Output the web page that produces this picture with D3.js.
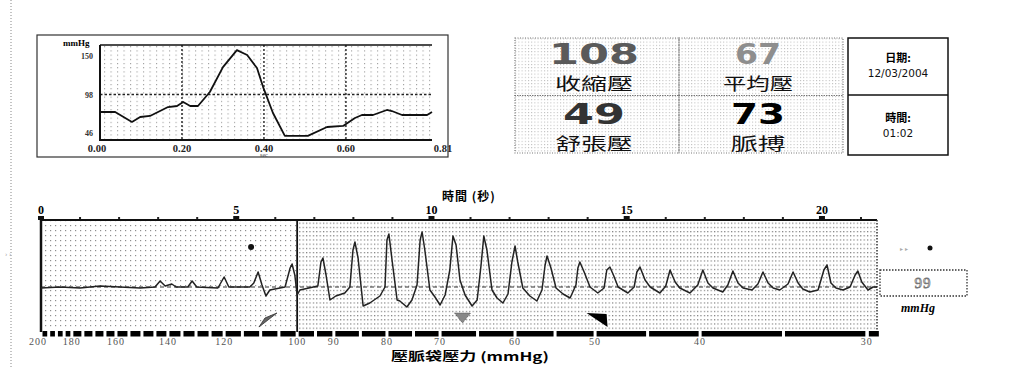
<!DOCTYPE html>
<html>
<head>
<meta charset="utf-8">
<script src="https://cdn.jsdelivr.net/npm/d3@7"></script>
<style>
  body { margin: 0; background: #fff; }
  svg { display: block; }
  .serif { font-family: "Liberation Serif", "DejaVu Serif", serif; }
  .cjk { font-family: "Noto Sans CJK TC", "Noto Sans CJK SC", sans-serif; }
</style>
</head>
<body>
<script>
// single beat (inset), seconds / mmHg
const insetTrace = [
  [0, 74.4], [0.037, 74.4], [0.078, 60.9], [0.098, 67.6], [0.122, 69], [0.166, 81.1],
  [0.188, 82.5], [0.203, 87.9], [0.22, 82.5], [0.239, 82.5], [0.268, 101.4], [0.30, 135.1],
  [0.334, 158.1], [0.359, 151.4], [0.383, 133.8], [0.398, 108.1], [0.422, 73], [0.451, 42],
  [0.507, 42], [0.554, 54.1], [0.593, 55.5], [0.622, 66.3], [0.639, 70.3], [0.666, 70.3],
  [0.70, 77.1], [0.712, 75.7], [0.737, 70.3], [0.798, 70.3], [0.81, 74.4]
];
const insetXTicks = [0, 0.2, 0.4, 0.6, 0.81];
const insetYTicks = [46, 98, 150];

// readout panel
const readoutValues = ["108", "67", "49", "73"];
const readoutLabels = ["收縮壓", "平均壓", "舒張壓", "脈搏"];
const dateText = ["日期:", "12/03/2004"];
const timeText = ["時間:", "01:02"];

// oscillation trace over the deflation, [seconds, amplitude]
const oscillation = [
  [0, -0.1], [0.49, 0], [1.00, -0.1], [1.51, 0.1], [2.02, 0], [2.54, -0.1], [2.92, 0], [3.05, 0.6],
  [3.18, 0.1], [3.35, 0.3], [3.46, 0], [3.76, 0], [3.87, 0.6], [3.99, 0], [4.53, -0.1], [4.69, 1.0],
  [4.81, 0], [5.35, 0], [5.45, 0.4], [5.56, 1.5], [5.66, 0.2], [5.76, -0.9], [5.86, -0.3], [6.25, 0],
  [6.38, 1.9], [6.43, 2.3], [6.50, 1.2], [6.56, -0.8], [6.63, -0.3], [7.09, 0.1], [7.17, 2.5], [7.22, 2.9],
  [7.30, 1.2], [7.40, -1.3], [7.55, -0.9], [7.78, -0.6], [7.91, 0], [7.99, 3.7], [8.04, 4.5], [8.12, 2.9],
  [8.25, -1.9], [8.42, -1.6], [8.68, -0.9], [8.81, 0], [8.86, 4.7], [8.91, 5.3], [8.99, 2.7], [9.12, -1.3],
  [9.19, -1.4], [9.37, -2.0], [9.50, -1.3], [9.63, 0.2], [9.71, 4.7], [9.76, 5.5], [9.83, 3.7], [9.96, -0.3],
  [10.09, -1.0], [10.22, -1.8], [10.35, -0.8], [10.47, 1.7], [10.55, 5.1], [10.63, 4.2], [10.73, 0.7],
  [10.86, -0.8], [11.04, -1.9], [11.17, -1.3], [11.27, 2.2], [11.34, 5.1], [11.42, 3.7], [11.55, -0.3],
  [11.68, -1.1], [11.83, -1.6], [11.96, -0.7], [12.06, 2.5], [12.14, 4.1], [12.21, 2.5], [12.34, -0.1],
  [12.52, -0.9], [12.70, -1.4], [12.83, -0.3], [12.91, 2.2], [12.96, 3.1], [13.06, 1.9], [13.19, -0.1],
  [13.37, -0.7], [13.55, -1.1], [13.70, 0.2], [13.75, 1.9], [13.80, 2.5], [13.91, 1.5], [14.06, 0],
  [14.26, -0.6], [14.42, -0.1], [14.49, 1.7], [14.57, 2.0], [14.67, 1.1], [14.78, 0], [15.03, -0.6],
  [15.19, 0], [15.26, 1.5], [15.34, 2.0], [15.47, 0.7], [15.60, 0], [15.85, -0.6], [16.00, 0.1],
  [16.11, 1.7], [16.24, 0.5], [16.36, -0.1], [16.62, -0.6], [16.82, 0.2], [16.95, 1.7], [17.08, 0.4],
  [17.21, -0.1], [17.46, -0.5], [17.59, 0.2], [17.72, 1.6], [17.85, 0.4], [17.98, -0.1], [18.21, -0.3],
  [18.36, 0.3], [18.49, 1.5], [18.62, 0.4], [18.75, -0.1], [18.92, -0.3], [19.13, 0.3], [19.26, 1.5],
  [19.39, 0.4], [19.51, -0.2], [19.69, -0.5], [19.90, -0.3], [20.05, 1.7], [20.13, 2.2], [20.23, 0.4],
  [20.36, -0.1], [20.54, -0.3], [20.72, 0], [20.85, 1.2], [20.92, 1.6], [21.02, 0.5], [21.18, -0.3],
  [21.31, 0], [21.41, 0]
];
const timeTicks = [0, 5, 10, 15, 20];
// cuff pressure labels and the second at which each was reached
const cuffTicks = [200, 180, 160, 140, 120, 100, 90, 80, 70, 60, 50, 40, 30];
const cuffTimes = [0, 0.79, 1.92, 3.25, 4.69, 6.56, 7.50, 8.86, 10.22, 12.14, 14.19, 16.88, 21.15];
const markerPressures = [108, 67, 49]; // systolic, mean, diastolic
const cuffReading = "99";
const extraDot = [5.38, 4.0];

const W = 1010, H = 369;
const svg = d3.select("body").append("svg")
    .attr("width", W).attr("height", H);

svg.append("rect").attr("width", W).attr("height", H).attr("fill", "#fff");

const defs = svg.append("defs");
function dotPattern(id, w, h, size, color) {
    const p = defs.append("pattern").attr("id", id)
        .attr("patternUnits", "userSpaceOnUse").attr("width", w).attr("height", h);
    p.append("rect").attr("width", size).attr("height", size).attr("fill", color);
}
dotPattern("dotsInset", 6.5, 4.2, 1.1, "#9a9a9a");
dotPattern("dotsPanel", 3.2, 3.2, 1.0, "#b5b5b5");
dotPattern("dotsLeft", 5, 5, 1.2, "#8f8f8f");
dotPattern("dotsRight", 3.4, 4.2, 1.2, "#7a7a7a");

// page edge
svg.append("line").attr("x1", 11).attr("x2", 11).attr("y1", 0).attr("y2", H)
    .attr("stroke", "#888").attr("stroke-width", 1).attr("stroke-dasharray", "1,2");
svg.append("text").attr("x", 5).attr("y", 256).attr("fill", "#999")
    .attr("font-size", 7).attr("class", "serif").text("› ›");

// ---------- inset: single beat ----------
svg.append("rect").attr("x", 37).attr("y", 35).attr("width", 411).attr("height", 122)
    .attr("fill", "none").attr("stroke", "#333").attr("stroke-width", 1.2);

const ix = d3.scaleLinear().domain([0, 0.81]).range([100, 432]);
const iy = d3.scaleLinear().domain([36.5, 165]).range([140, 45]);

svg.append("rect").attr("x", 100).attr("y", 45).attr("width", 332).attr("height", 95)
    .attr("fill", "url(#dotsInset)");

svg.selectAll(".ivline").data(insetXTicks.slice(1, 4)).enter().append("line")
    .attr("x1", d => ix(d)).attr("x2", d => ix(d)).attr("y1", 45).attr("y2", 140)
    .attr("stroke", "#222").attr("stroke-width", 1.4).attr("stroke-dasharray", "2,2");
svg.append("line").attr("x1", 100).attr("x2", 432).attr("y1", iy(98)).attr("y2", iy(98))
    .attr("stroke", "#222").attr("stroke-width", 1.4).attr("stroke-dasharray", "2.5,2");

svg.append("path").attr("d", `M100,45H432`).attr("stroke", "#111").attr("stroke-width", 1.5);
svg.append("path").attr("d", `M100,45V140H432`).attr("fill", "none")
    .attr("stroke", "#111").attr("stroke-width", 2);

svg.append("path").datum(insetTrace)
    .attr("d", d3.line().x(d => ix(d[0])).y(d => iy(d[1])))
    .attr("fill", "none").attr("stroke", "#111").attr("stroke-width", 1.8)
    .attr("stroke-linejoin", "round");

svg.selectAll(".iylab").data(insetYTicks).enter().append("text")
    .attr("class", "serif").attr("x", 93).attr("y", d => iy(d) + 3)
    .attr("text-anchor", "end").attr("font-size", 8).attr("font-weight", "bold")
    .attr("fill", "#333").text(d => d);
svg.append("text").attr("class", "serif").attr("x", 63).attr("y", 46)
    .attr("font-size", 9).attr("font-weight", "bold").text("mmHg");

svg.selectAll(".ixlab").data(insetXTicks).enter().append("text")
    .attr("class", "serif").attr("x", (d, i) => i === 0 ? ix(d) - 3 : ix(d) + (i === 4 ? 11 : 0))
    .attr("y", 152).attr("text-anchor", "middle").attr("font-size", 10.5)
    .attr("font-weight", "bold").attr("fill", "#222").text(d => d.toFixed(2));
svg.append("text").attr("class", "serif").attr("x", ix(0.4)).attr("y", 157)
    .attr("text-anchor", "middle").attr("font-size", 6).attr("fill", "#444").text("sec");

// ---------- readout panel ----------
const col = d3.scaleBand().domain([0, 1]).range([515, 843]);
const row = d3.scaleBand().domain([0, 1]).range([38, 153]);
const numColor = ["#5a5a5a", "#8e8e8e", "#333", "#000"];
const numWidth = [90, 46, 62, 54];
const labWidth = [78, 70, 77, 55];

svg.append("rect").attr("x", 515).attr("y", 38).attr("width", 328).attr("height", 115)
    .attr("fill", "url(#dotsPanel)");
const cells = svg.selectAll(".cell").data(readoutValues).enter().append("g")
    .attr("transform", (d, i) => `translate(${col(i % 2)},${row(Math.floor(i / 2))})`);
cells.append("rect").attr("width", col.bandwidth()).attr("height", row.bandwidth())
    .attr("fill", "none").attr("stroke", "#777").attr("stroke-width", 1.2)
    .attr("stroke-dasharray", "1,1.5");
cells.append("text")
    .attr("x", col.bandwidth() / 2 - 3).attr("y", (d, i) => i < 2 ? 26 : 28)
    .attr("text-anchor", "middle").attr("font-family", "'DejaVu Sans', sans-serif")
    .attr("font-weight", "900").attr("font-size", 29)
    .attr("textLength", (d, i) => numWidth[i]).attr("lengthAdjust", "spacingAndGlyphs")
    .attr("fill", (d, i) => numColor[i]).text(d => d);
cells.append("text").attr("class", "cjk")
    .attr("x", col.bandwidth() / 2 - 3).attr("y", (d, i) => i < 2 ? 52 : 54)
    .attr("text-anchor", "middle").attr("font-size", 17)
    .attr("textLength", (d, i) => labWidth[i]).attr("lengthAdjust", "spacingAndGlyphs")
    .attr("fill", "#111").text((d, i) => readoutLabels[i]);

// date / time box
svg.append("rect").attr("x", 848).attr("y", 38).attr("width", 100).attr("height", 117)
    .attr("fill", "#fff").attr("stroke", "#111").attr("stroke-width", 1.5);
svg.append("line").attr("x1", 848).attr("x2", 948).attr("y1", 95).attr("y2", 95)
    .attr("stroke", "#111").attr("stroke-width", 1.5);
[[dateText, 62, 77], [timeText, 122, 137]].forEach(([t, y1, y2]) => {
    svg.append("text").attr("class", "cjk").attr("x", 898).attr("y", y1)
        .attr("text-anchor", "middle").attr("font-size", 11).attr("font-weight", "bold").text(t[0]);
    svg.append("text").attr("x", 898).attr("y", y2).attr("font-family", "'DejaVu Sans', sans-serif")
        .attr("text-anchor", "middle").attr("font-size", 10.5).attr("fill", "#111").text(t[1]);
});

// ---------- main oscillation chart ----------
const plotTop = 220, plotBottom = 330;
const x = d3.scaleLinear().domain([0, 21.41]).range([41, 877]);
const y = d3.scaleLinear().domain([-4.3, 6.7]).range([plotBottom, plotTop]);
const cuff = d3.scaleLinear().domain(cuffTicks).range(cuffTimes);
const cx = p => x(cuff(p));

svg.append("rect").attr("x", 41).attr("y", plotTop).attr("width", cx(100) - 41).attr("height", plotBottom - plotTop)
    .attr("fill", "url(#dotsLeft)");
svg.append("rect").attr("x", cx(100)).attr("y", plotTop).attr("width", 877 - cx(100)).attr("height", plotBottom - plotTop)
    .attr("fill", "url(#dotsRight)");

// baseline
svg.append("line").attr("x1", 41).attr("x2", 877).attr("y1", y(0)).attr("y2", y(0))
    .attr("stroke", "#333").attr("stroke-width", 1.1).attr("stroke-dasharray", "4,3");

// time axis on top
svg.append("text").attr("class", "cjk").attr("x", 469).attr("y", 201)
    .attr("text-anchor", "middle").attr("font-size", 12).attr("font-weight", "bold")
    .attr("letter-spacing", 1).text("時間 (秒)");
svg.append("line").attr("x1", 41).attr("x2", 877).attr("y1", plotTop).attr("y2", plotTop)
    .attr("stroke", "#111").attr("stroke-width", 2);
svg.selectAll(".minor").data(d3.range(1, 22)).enter().append("rect")
    .attr("x", d => x(d) - 1).attr("y", plotTop - 3).attr("width", 2).attr("height", 2)
    .attr("fill", "#222");
svg.selectAll(".major").data(timeTicks).enter().append("rect")
    .attr("x", d => x(d) - 3).attr("y", plotTop - 4).attr("width", 6).attr("height", 4)
    .attr("fill", "#111");
svg.selectAll(".tlab").data(timeTicks).enter().append("text")
    .attr("class", "serif").attr("x", d => x(d)).attr("y", plotTop - 6)
    .attr("text-anchor", "middle").attr("font-size", 12).attr("font-weight", "bold").text(d => d);

// frame
svg.append("line").attr("x1", 41).attr("x2", 41).attr("y1", plotTop).attr("y2", plotBottom + 2)
    .attr("stroke", "#111").attr("stroke-width", 2.5);
svg.append("line").attr("x1", 877).attr("x2", 877).attr("y1", plotTop).attr("y2", plotBottom + 2)
    .attr("stroke", "#333").attr("stroke-width", 1.5).attr("stroke-dasharray", "1.5,1.5");
svg.append("line").attr("x1", cx(100)).attr("x2", cx(100)).attr("y1", plotTop).attr("y2", plotBottom + 2)
    .attr("stroke", "#111").attr("stroke-width", 1.8);

// trace
svg.append("path").datum(oscillation)
    .attr("d", d3.line().x(d => x(d[0])).y(d => y(d[1])))
    .attr("fill", "none").attr("stroke", "#222").attr("stroke-width", 1.5)
    .attr("stroke-linejoin", "round");

svg.append("circle").attr("cx", x(extraDot[0])).attr("cy", y(extraDot[1])).attr("r", 3)
    .attr("fill", "#111");

// markers: systolic / mean / diastolic
const mSys = cx(markerPressures[0]), mMap = cx(markerPressures[1]), mDia = cx(markerPressures[2]);
svg.append("polygon")
    .attr("points", `${mSys - 9},327 ${mSys + 9},313 ${mSys - 3},318`)
    .attr("fill", "#666").attr("stroke", "#333").attr("stroke-width", 0.8);
svg.append("polygon")
    .attr("points", `${mMap - 8},313 ${mMap + 8},313 ${mMap},323`)
    .attr("fill", "#888").attr("stroke", "#444").attr("stroke-width", 0.8)
    .attr("stroke-dasharray", "1,1");
svg.append("polygon")
    .attr("points", `${mDia - 19},313 ${mDia + 1},314 ${mDia + 2},327`)
    .attr("fill", "#000");

// cuff pressure bar
const steps = d3.range(200, 30, -5);
svg.selectAll(".seg").data(steps).enter().append("rect")
    .attr("x", d => cx(d) + 1.5).attr("y", plotBottom + 1)
    .attr("width", d => Math.max(0, cx(d - 5) - cx(d) - 3)).attr("height", 5.5)
    .attr("fill", "#000");
svg.append("rect").attr("x", cx(30) + 2).attr("y", plotBottom + 1).attr("width", 10).attr("height", 5.5)
    .attr("fill", "#000");
svg.selectAll(".clab").data(cuffTicks).enter().append("text")
    .attr("class", "serif").attr("x", d => cx(d) - (d === 200 ? 3 : 0)).attr("y", 345)
    .attr("text-anchor", "middle").attr("font-size", 10).attr("fill", "#555")
    .attr("letter-spacing", 1).text(d => d);
svg.append("text").attr("x", 470).attr("y", 361)
    .attr("text-anchor", "middle").attr("font-size", 12).attr("font-weight", "bold")
    .attr("textLength", 158).attr("lengthAdjust", "spacingAndGlyphs")
    .attr("font-family", "'Noto Sans CJK TC', 'Liberation Serif', serif")
    .text("壓脈袋壓力 (mmHg)");

// current cuff reading
svg.append("rect").attr("x", 880).attr("y", 270).attr("width", 87).attr("height", 26)
    .attr("fill", "#fff").attr("stroke", "#333").attr("stroke-width", 1.3)
    .attr("stroke-dasharray", "1.5,1.5");
svg.append("text").attr("class", "serif").attr("x", 923).attr("y", 288)
    .attr("text-anchor", "middle").attr("font-size", 15).attr("fill", "#fff")
    .attr("stroke", "#777").attr("stroke-width", 0.8).attr("letter-spacing", 1).text(cuffReading);
svg.append("text").attr("class", "serif").attr("x", 918).attr("y", 312)
    .attr("text-anchor", "middle").attr("font-size", 12).attr("font-weight", "bold")
    .attr("font-style", "italic").text("mmHg");
svg.append("text").attr("x", 900).attr("y", 251).attr("font-size", 6).attr("fill", "#aaa").text("▸ ▸");
svg.append("circle").attr("cx", 930).attr("cy", 248).attr("r", 2.5).attr("fill", "#111");
</script>
</body>
</html>
